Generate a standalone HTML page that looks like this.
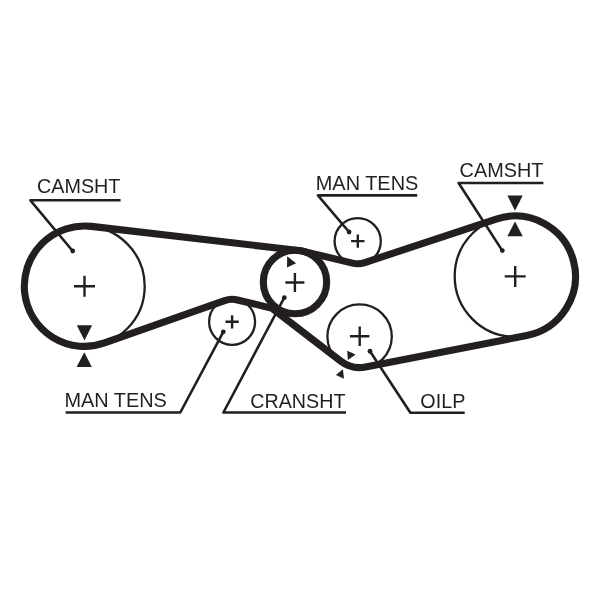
<!DOCTYPE html>
<html><head><meta charset="utf-8"><title>Timing belt diagram</title>
<style>
html,body{margin:0;padding:0;background:#fff;width:600px;height:589px;overflow:hidden}
svg{display:block}
text{will-change:transform}
</style></head>
<body>
<svg width="600" height="589" viewBox="0 0 600 589">
<g fill="none" stroke="#231f20">
<circle cx="84.5" cy="286.2" r="60.2" stroke-width="2.3"/>
<circle cx="357.7" cy="241.2" r="23.1" stroke-width="2.3"/>
<circle cx="515.2" cy="276.3" r="60.5" stroke-width="2.3"/>
<circle cx="359.6" cy="336.6" r="32.2" stroke-width="2.3"/>
<circle cx="232.1" cy="321.8" r="23.0" stroke-width="2.3"/>
<circle cx="295.0" cy="282.0" r="31.7" stroke-width="7.1"/>
<path d="M91.46,226.40 L298.66,250.51 A31.70,31.70 0 0 1 302.33,251.16 L352.49,263.09 A22.50,22.50 0 0 0 364.77,262.56 L496.26,219.05 A60.30,60.30 0 1 1 526.78,335.48 L365.55,367.02 A31.00,31.00 0 0 1 340.69,361.16 L272.13,308.37 L237.41,299.94 A22.50,22.50 0 0 0 224.61,300.58 L104.54,342.97 A60.20,60.20 0 1 1 91.46,226.40 Z" stroke-width="7.1" stroke-linejoin="round"/>
<path d="M74.00,286.20H95.00M84.50,275.70V296.70" stroke-width="2.4"/>
<path d="M285.40,282.50H304.40M294.90,273.00V292.00" stroke-width="2.4"/>
<path d="M351.10,241.10H364.50M357.80,234.40V247.80" stroke-width="2.4"/>
<path d="M504.70,276.40H525.70M515.20,265.90V286.90" stroke-width="2.4"/>
<path d="M350.00,336.30H369.40M359.70,326.60V346.00" stroke-width="2.4"/>
<path d="M225.50,321.80H238.70M232.10,315.20V328.40" stroke-width="2.4"/>
<path d="M72.7,251.0L30.4,200.3H120.6" stroke-width="2.6" stroke-linejoin="round"/>
<path d="M349.1,232.0L317.9,195.4H417.2" stroke-width="2.6" stroke-linejoin="round"/>
<path d="M502.3,250.6L458.6,183.0H543.4" stroke-width="2.6" stroke-linejoin="round"/>
<path d="M223.3,331.8L180.3,412.5H65.6" stroke-width="2.6" stroke-linejoin="round"/>
<path d="M284.3,297.7L223.4,412.5H346.0" stroke-width="2.6" stroke-linejoin="round"/>
<path d="M370.0,351.25L410.4,412.7H464.7" stroke-width="2.6" stroke-linejoin="round"/>
</g>
<g fill="#231f20" stroke="none">
<circle cx="72.7" cy="251.0" r="2.4"/>
<circle cx="349.1" cy="232.0" r="2.4"/>
<circle cx="502.3" cy="250.6" r="2.4"/>
<circle cx="223.3" cy="331.8" r="2.4"/>
<circle cx="284.3" cy="297.7" r="2.4"/>
<circle cx="370.0" cy="351.25" r="2.4"/>
<polygon points="76.8,325.2 92.1,325.2 84.5,340.5"/>
<polygon points="84.3,352.2 76.6,367.0 91.8,367.0"/>
<polygon points="507.4,195.5 522.7,195.5 515.0,210.8"/>
<polygon points="515.0,221.4 507.4,236.3 522.7,236.3"/>
<polygon points="287.2,256.2 287.0,267.4 296.1,263.2"/>
<polygon points="347.2,350.7 347.9,360.0 355.6,354.5"/>
<polygon points="342.9,369.3 335.9,374.9 344.0,378.8"/>
</g>
<g fill="#231f20" font-family="'Liberation Sans', sans-serif">
<text x="36.99" y="193.2" font-size="19.8" textLength="83.46" lengthAdjust="spacingAndGlyphs">CAMSHT</text>
<text x="315.78" y="189.6" font-size="19.8" textLength="102.53" lengthAdjust="spacingAndGlyphs">MAN TENS</text>
<text x="459.59" y="176.9" font-size="19.8" textLength="83.76" lengthAdjust="spacingAndGlyphs">CAMSHT</text>
<text x="64.48" y="406.65" font-size="19.8" textLength="102.43" lengthAdjust="spacingAndGlyphs">MAN TENS</text>
<text x="250.29" y="407.7" font-size="19.8" textLength="95.16" lengthAdjust="spacingAndGlyphs">CRANSHT</text>
<text x="420.36" y="407.7" font-size="19.8" textLength="44.98" lengthAdjust="spacingAndGlyphs">OILP</text>
</g>
</svg>
</body></html>
